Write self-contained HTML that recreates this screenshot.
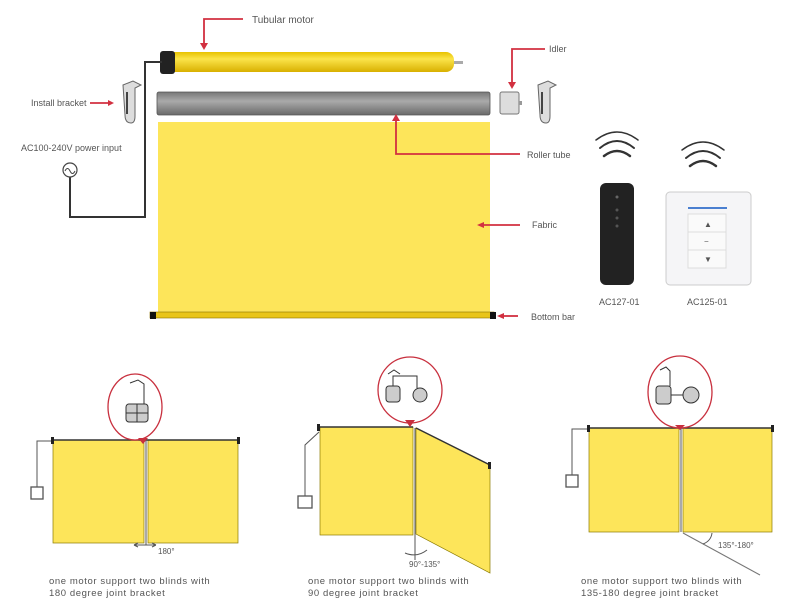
<!DOCTYPE html>
<html><head><meta charset="utf-8"><style>
html,body{margin:0;padding:0;background:#fff;width:800px;height:602px;overflow:hidden}
svg{display:block}
text{font-family:"Liberation Sans",sans-serif;fill:#555}
</style></head><body>
<svg width="800" height="602" viewBox="0 0 800 602" xmlns="http://www.w3.org/2000/svg">
<defs>
<linearGradient id="my" x1="0" y1="0" x2="0" y2="1"><stop offset="0" stop-color="#e8c200"/><stop offset=".35" stop-color="#fbe44a"/><stop offset="1" stop-color="#d8b000"/></linearGradient>
<linearGradient id="gt" x1="0" y1="0" x2="0" y2="1"><stop offset="0" stop-color="#777"/><stop offset=".4" stop-color="#aaa"/><stop offset="1" stop-color="#6a6a6a"/></linearGradient>
</defs>
<rect x="158" y="122" width="332" height="191" fill="#fde55a"/>
<rect x="150" y="312" width="344" height="6" fill="#e9c51a" stroke="#8a7000" stroke-width="0.6"/>
<rect x="150" y="312" width="6" height="7" fill="#111"/><rect x="490" y="312" width="6" height="7" fill="#111"/>
<rect x="157" y="92" width="333" height="23" rx="2" fill="url(#gt)" stroke="#555" stroke-width="0.8"/>
<rect x="162" y="52" width="292" height="20" rx="8" fill="url(#my)"/>
<rect x="160" y="51" width="15" height="23" rx="3" fill="#222"/>
<rect x="454" y="61" width="9" height="3" fill="#aaa"/>
<polyline points="162,62 145,62 145,217 70,217 70,177" fill="none" stroke="#333" stroke-width="2"/>
<circle cx="70" cy="170" r="7" fill="#fff" stroke="#444" stroke-width="1.2"/>
<path d="M65,171 q2.5,-5 5,0 q2.5,5 5,0" fill="none" stroke="#444" stroke-width="1"/>
<path d="M123,85 l10,-4 l8,4 l-6,3 v28 q0,7 -4,7 q-6,0 -6,-8 z" fill="#ddd" stroke="#666" stroke-width="1"/>
<path d="M127,92 v22" stroke="#444" stroke-width="2"/>
<path d="M538,85 l10,-4 l8,4 l-6,3 v28 q0,7 -4,7 q-6,0 -6,-8 z" fill="#ddd" stroke="#666" stroke-width="1"/>
<path d="M542,92 v22" stroke="#444" stroke-width="2"/>
<rect x="500" y="92" width="19" height="22" rx="2" fill="#ddd" stroke="#777"/>
<rect x="519" y="101" width="3" height="4" fill="#999"/>
<g stroke="#d23040" stroke-width="1.8" fill="none">
<polyline points="243,19 204,19 204,44"/>
<line x1="90" y1="103" x2="110" y2="103"/>
<polyline points="545,49 512,49 512,83"/>
<polyline points="520,154 396,154 396,120"/>
<line x1="520" y1="225" x2="480" y2="225"/>
<line x1="518" y1="316" x2="502" y2="316"/>
</g>
<g fill="#d23040">
<path d="M200,43 l4,7 l4,-7z"/><path d="M108,100 l6,3 l-6,3z"/><path d="M508,82 l4,7 l4,-7z"/>
<path d="M392,121 l4,-7 l4,7z"/><path d="M477,225 l7,-3 v6z"/><path d="M497,316 l7,-3 v6z"/>
</g>
<text x="252" y="23" font-size="10">Tubular motor</text>
<text x="31" y="106" font-size="9">Install bracket</text>
<text x="21" y="151" font-size="9">AC100-240V power input</text>
<text x="549" y="52" font-size="9">Idler</text>
<text x="527" y="158" font-size="9">Roller tube</text>
<text x="532" y="228" font-size="9">Fabric</text>
<text x="531" y="320" font-size="9">Bottom bar</text>
<g fill="none" stroke="#333" stroke-linecap="round">
<path d="M604,156 q13,-10 26,0" stroke-width="2.5"/><path d="M600,148 q17,-14 34,0" stroke-width="2"/><path d="M596,140 q21,-16 42,0" stroke-width="1.5"/>
<path d="M690,166 q13,-10 26,0" stroke-width="2.5"/><path d="M686,158 q17,-14 34,0" stroke-width="2"/><path d="M682,150 q21,-16 42,0" stroke-width="1.5"/>
</g>
<rect x="600" y="183" width="34" height="102" rx="6" fill="#222"/>
<circle cx="617" cy="197" r="1.5" fill="#666"/><circle cx="617" cy="210" r="1.5" fill="#555"/><circle cx="617" cy="218" r="1.5" fill="#555"/><circle cx="617" cy="226" r="1.5" fill="#555"/>
<rect x="666" y="192" width="85" height="93" rx="4" fill="#f5f5f7" stroke="#ccc"/>
<rect x="688" y="207" width="39" height="2" fill="#4a7fd0"/>
<rect x="688" y="214" width="38" height="54" fill="#fafafa" stroke="#ddd"/>
<line x1="688" y1="232" x2="726" y2="232" stroke="#ddd"/><line x1="688" y1="250" x2="726" y2="250" stroke="#ddd"/>
<text x="704" y="227" font-size="8" fill="#666">▲</text><text x="704" y="244" font-size="8">−</text><text x="704" y="262" font-size="8">▼</text>
<text x="599" y="305" font-size="9">AC127-01</text>
<text x="687" y="305" font-size="9">AC125-01</text>
<g stroke="#8a7a00" stroke-width="0.7" fill="#fde55a">
<rect x="53" y="440" width="91" height="103"/><rect x="148" y="440" width="90" height="103"/>
<rect x="320" y="427" width="93" height="108"/><polygon points="416,428 490,465 490,573 416,534"/>
<rect x="589" y="428" width="90" height="104"/><rect x="683" y="428" width="89" height="104"/>
</g>
<g stroke="#555" stroke-width="1" fill="none">
<line x1="51" y1="440" x2="240" y2="440" stroke="#333" stroke-width="1.5"/>
<line x1="318" y1="427" x2="413" y2="427" stroke="#333" stroke-width="1.5"/>
<line x1="416" y1="428" x2="490" y2="465" stroke="#333" stroke-width="1.5"/>
<line x1="587" y1="428" x2="774" y2="428" stroke="#333" stroke-width="1.5"/>
<polyline points="53,441 37,441 37,487"/><rect x="31" y="487" width="12" height="12" stroke-width="1.3"/>
<polyline points="319,432 305,445 305,496"/><rect x="298" y="496" width="14" height="12" stroke-width="1.3"/>
<polyline points="589,429 572,429 572,475"/><rect x="566" y="475" width="12" height="12" stroke-width="1.3"/>
<line x1="146" y1="440" x2="146" y2="545"/><line x1="415" y1="428" x2="415" y2="560"/><line x1="681" y1="428" x2="681" y2="532"/>
<line x1="683" y1="533" x2="760" y2="575" stroke="#777"/>
<path d="M703,544 q8,-3 9,-11"/><path d="M405,553 q12,5 22,-3"/>
<path d="M134,545 h22 M134,545 l4,-2 M134,545 l4,2 M156,545 l-4,-2 M156,545 l-4,2"/>
</g>
<g fill="#222"><rect x="51" y="437" width="3" height="7"/><rect x="237" y="437" width="3" height="7"/><rect x="317" y="424" width="3" height="7"/><rect x="488" y="462" width="3" height="7"/><rect x="587" y="425" width="3" height="7"/><rect x="771" y="425" width="3" height="7"/></g>
<text x="158" y="554" font-size="8">180°</text>
<text x="409" y="567" font-size="8">90°-135°</text>
<text x="718" y="548" font-size="8">135°-180°</text>
<g fill="#fff" stroke="#c8303e" stroke-width="1.3">
<ellipse cx="135" cy="407" rx="27" ry="33"/><ellipse cx="410" cy="390" rx="32" ry="33"/><ellipse cx="680" cy="392" rx="32" ry="36"/>
</g>
<g fill="#c8303e"><path d="M138,438 l5,6 l5,-6z"/><path d="M405,420 l5,7 l5,-7z"/><path d="M675,425 l5,5 l5,-5z"/></g>
<g stroke="#333" stroke-width="1" fill="#ccc">
<rect x="126" y="404" width="22" height="18" rx="3"/><line x1="137" y1="404" x2="137" y2="422"/><line x1="126" y1="413" x2="148" y2="413"/><path d="M130,383 l8,-3 l6,4 v20" fill="none"/>
<rect x="386" y="386" width="14" height="16" rx="3"/><circle cx="420" cy="395" r="7"/><path d="M393,386 v-10 h24 v12" fill="none"/><path d="M388,374 l6,-4 l6,4" fill="none"/>
<rect x="656" y="386" width="15" height="18" rx="3"/><circle cx="691" cy="395" r="8"/><path d="M671,395 h12" fill="none"/><path d="M660,370 l6,-3 l4,4 v15" fill="none"/>
</g>
<g font-size="9.5" letter-spacing="0.6">
<text x="49" y="584">one  motor  support  two  blinds  with</text><text x="49" y="596">180 degree joint bracket</text>
<text x="308" y="584">one  motor  support  two  blinds  with</text><text x="308" y="596">90 degree joint bracket</text>
<text x="581" y="584">one  motor  support  two  blinds  with</text><text x="581" y="596">135-180 degree joint bracket</text>
</g>
</svg>
</body></html>
